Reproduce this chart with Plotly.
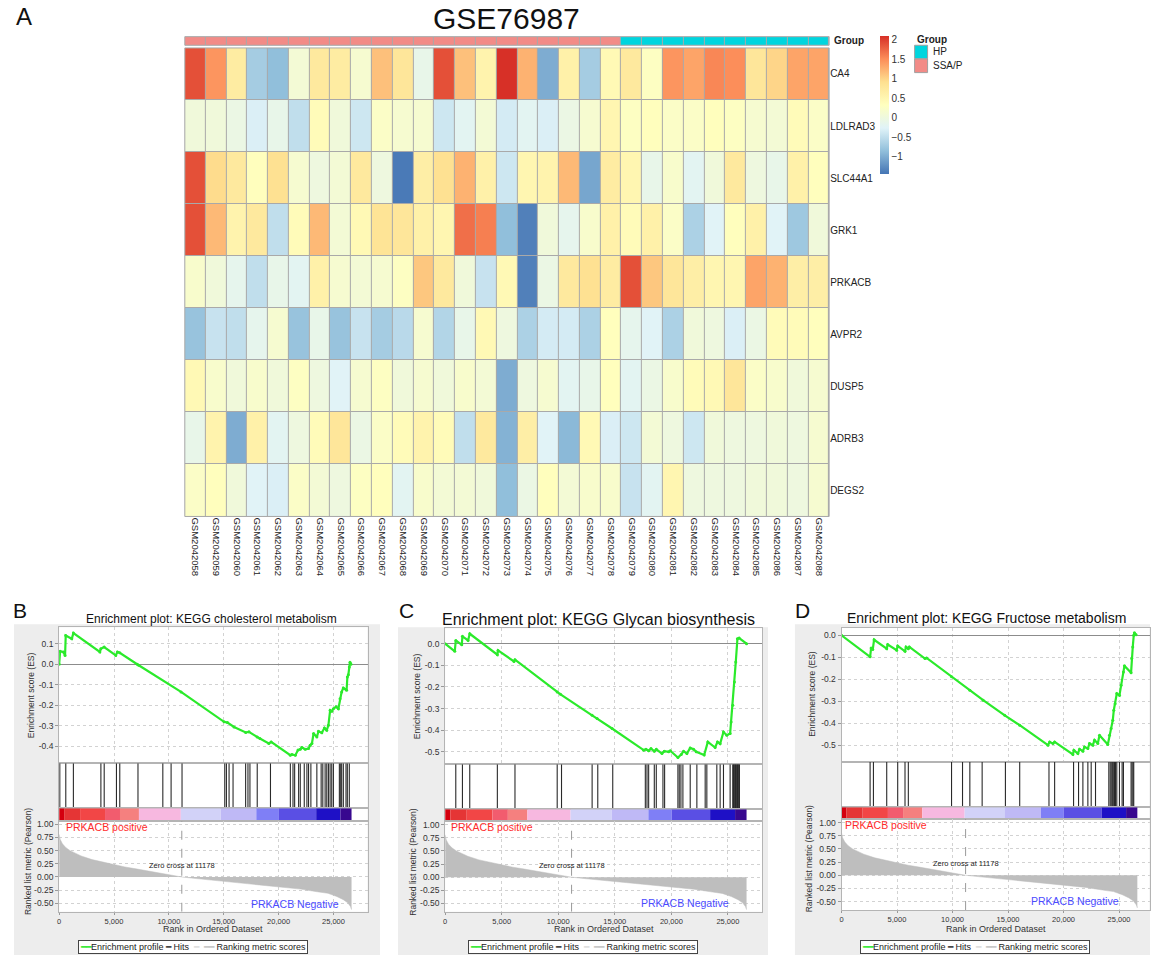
import plotly.graph_objects as go

# ---------------------------------------------------------------- data ----
genes = ["CA4", "LDLRAD3", "SLC44A1", "GRK1", "PRKACB", "AVPR2", "DUSP5", "ADRB3", "DEGS2"]
samples = ["GSM2042058", "GSM2042059", "GSM2042060", "GSM2042061", "GSM2042062", "GSM2042063",
           "GSM2042064", "GSM2042065", "GSM2042066", "GSM2042067", "GSM2042068", "GSM2042069",
           "GSM2042070", "GSM2042071", "GSM2042072", "GSM2042073", "GSM2042074", "GSM2042075",
           "GSM2042076", "GSM2042077", "GSM2042078", "GSM2042079", "GSM2042080", "GSM2042081",
           "GSM2042082", "GSM2042083", "GSM2042084", "GSM2042085", "GSM2042086", "GSM2042087",
           "GSM2042088"]
groups = ["SSA/P", "SSA/P", "SSA/P", "SSA/P", "SSA/P", "SSA/P", "SSA/P", "SSA/P", "SSA/P", "SSA/P",
          "SSA/P", "SSA/P", "SSA/P", "SSA/P", "SSA/P", "SSA/P", "SSA/P", "SSA/P", "SSA/P", "SSA/P",
          "SSA/P", "HP", "HP", "HP", "HP", "HP", "HP", "HP", "HP", "HP", "HP"]

expr_CA4 = [1.9, 1.45, 0.7, -0.7, -0.85, 0.1, 0.75, 0.7, 0.15, 1.15, 0.8, -0.1, 1.9, 1.15, 0.55, 2.1,
            1.25, -1.0, 0.6, -0.7, 0.45, 0.75, 0.3, 1.45, 1.35, 1.55, 1.5, 0.8, 1.0, 1.35, 1.35]
expr_LDLRAD3 = [0.05, 0.05, -0.05, -0.3, -0.1, -0.5, 0.4, 0.05, -0.4, 0.25, 0.15, 0.15, -0.4, -0.2, 0.1,
                -0.35, -0.2, -0.3, -0.05, 0.15, 0.5, 0.3, 0.35, 0.25, 0.25, 0.35, 0.3, 0.15, 0.1, 0.4, 0.25]
expr_SLC44A1 = [1.9, 0.95, 0.75, 0.35, 0.9, 0.15, 0.0, 0.1, 0.75, 0.0, -1.4, 0.65, 0.9, 1.25, 0.6, -0.4,
                0.5, 0.55, 1.2, -1.05, 0.7, 0.5, -0.1, 0.2, -0.2, 0.05, 0.75, 0.0, -0.1, 0.6, 0.35]
expr_GRK1 = [1.9, 1.2, 0.55, 0.75, -0.5, 0.4, 1.2, 0.1, 0.45, 0.85, 0.8, 0.6, 0.5, 1.7, 1.6, -0.85,
             -1.35, 0.05, -0.15, 0.2, 0.6, 0.4, 0.6, 0.25, -0.65, -0.25, 0.35, 0.6, -0.25, -0.75, 0.05]
expr_PRKACB = [0.2, 0.05, -0.15, -0.5, -0.1, -0.2, 0.6, 0.15, 0.1, 0.15, 0.3, 1.1, 0.75, 0.05, -0.45, 0.45,
               -1.35, -0.05, 0.75, 0.9, 0.7, 1.9, 1.1, 0.8, 0.65, 0.5, 0.5, 1.35, 1.25, 0.65, 0.65]
expr_AVPR2 = [-0.8, -0.45, -0.5, -0.15, 0.15, -0.8, -0.1, -0.8, -0.45, -0.7, -0.55, 0.15, -0.6, -0.1, 0.45,
              0.0, -0.65, -0.35, -0.35, -0.65, 0.35, -0.15, -0.25, -0.65, 0.05, 0.0, -0.3, -0.05, 0.4, 0.4, 0.35]
expr_DUSP5 = [0.45, 0.2, 0.05, 0.2, 0.05, 0.3, 0.0, -0.25, 0.15, 0.3, 0.05, 0.15, 0.05, 0.2, 0.1, -1.0,
              0.0, 0.15, -0.2, -0.1, 0.35, -0.2, -0.05, 0.2, 0.4, 0.45, 0.8, 0.25, 0.2, 0.05, 0.15]
expr_ADRB3 = [-0.1, 0.55, -1.0, 0.6, -0.2, 0.0, 0.4, 0.8, -0.05, 0.25, 0.4, 0.55, 0.4, -0.5, 0.75, -0.95,
              0.65, -0.25, -0.9, 0.45, -0.3, -0.4, 0.1, 0.0, -0.4, 0.05, 0.0, 0.0, 0.05, 0.0, 0.15]
expr_DEGS2 = [0.25, 0.35, 0.05, -0.25, -0.3, 0.25, 0.1, 0.0, 0.3, 0.35, -0.2, 0.2, 0.1, 0.1, 0.05, -0.85,
              -0.05, 0.35, 0.1, 0.2, 0.2, -0.45, -0.2, 0.5, 0.0, 0.0, 0.0, 0.05, 0.05, 0.0, 0.15]
heat_min, heat_max = -1.44, 2.1
heat_ticks = [-1, -0.5, 0, 0.5, 1, 1.5, 2]

# GSEA: shared ranked list
metric_rank = [0, 100, 300, 600, 1000, 2000, 3000, 4000, 5000, 6000, 7000, 8000, 9000, 10000, 11178,
               12500, 14000, 16000, 18000, 20000, 22000, 23500, 24500, 25300, 25900, 26300, 26550, 26650]
metric_val = [0.81, 0.71, 0.63, 0.56, 0.5, 0.4, 0.33, 0.28, 0.23, 0.19, 0.155, 0.12, 0.08, 0.04, 0.0,
              -0.03, -0.06, -0.1, -0.14, -0.18, -0.23, -0.28, -0.31, -0.37, -0.43, -0.49, -0.56, -0.62]
zero_cross = 11178
cbar_edges = [0, 455, 1909, 4182, 5545, 7273, 11091, 14727, 17970, 20030, 23427, 25636, 26650]
cbar_colors = ["#D4000E", "#E53535", "#F24646", "#F25C6E", "#F5807F", "#F7B8E0", "#D2D2F8",
               "#BFB9F6", "#7F7FF6", "#5A4FE4", "#1E10C6", "#38088F"]
metric_ticks = [1.0, 0.75, 0.5, 0.25, 0.0, -0.25, -0.5]
metric_ticktext = ["1.00", "0.75", "0.50", "0.25", "0.00", "-0.25", "-0.50"]
rank_ticks = [0, 5000, 10000, 15000, 20000, 25000]

# B: KEGG cholesterol metabolism
es_b_rank = [0, 90, 390, 540, 600, 1150, 1300, 3710, 3800, 4100, 5160, 5310, 5520, 7120, 7250, 11110,
             15030, 15340, 15940, 17000, 17300, 18050, 18300, 19110, 19320, 21070, 21220, 21530, 21770,
             21980, 22130, 22430, 22730, 22880, 23040, 23190, 23490, 23640, 23940, 24180, 24390, 24540,
             24700, 24850, 25000, 25240, 25450, 25600, 25750, 25900, 26200, 26270, 26360, 26450, 26510, 26600]
es_b_val = [0.0, 0.063, 0.06, 0.043, 0.14, 0.124, 0.152, 0.06, 0.076, 0.084, 0.043, 0.06, 0.056, 0.0,
            -0.005, -0.135, -0.281, -0.285, -0.306, -0.333, -0.33, -0.355, -0.363, -0.387, -0.379, -0.444,
            -0.44, -0.444, -0.419, -0.415, -0.406, -0.415, -0.411, -0.395, -0.387, -0.338, -0.355, -0.327,
            -0.335, -0.311, -0.322, -0.298, -0.225, -0.23, -0.217, -0.208, -0.217, -0.168, -0.135, -0.116,
            -0.127, -0.062, -0.051, -0.014, 0.01, 0.0]
hits_b = [60, 604, 1298, 3804, 4106, 5223, 5525, 7185, 9449, 10204, 11200, 15095, 15246, 15488, 15850,
          16997, 17209, 17390, 18054, 19261, 21073, 21314, 21465, 21827, 21978, 22341, 22582, 22733, 22944,
          23488, 23880, 24031, 24242, 24393, 24544, 24695, 24846, 24997, 25541, 25662, 25752, 25903, 26145,
          26266, 26447]
es_ticks_b = [0.1, 0.0, -0.1, -0.2, -0.3, -0.4]
es_ticktext_b = ["0.1", "0.0", "-0.1", "-0.2", "-0.3", "-0.4"]

# C: KEGG Glycan biosynthesis
es_c_rank = [0, 853, 941, 1470, 1529, 2029, 2176, 4616, 4675, 6086, 6174, 9908, 10202, 12995, 13436,
             14759, 17552, 17758, 17993, 18199, 18493, 18669, 19169, 19375, 19757, 19904, 20580, 20874,
             21080, 21374, 21668, 21962, 22197, 22903, 23226, 23873, 24079, 24314, 24608, 24902, 25196,
             25284, 25431, 25578, 25696, 25843, 25990, 26650]
es_c_val = [0.0, -0.035, 0.015, -0.005, 0.034, 0.015, 0.046, -0.051, -0.031, -0.082, -0.074, -0.223,
            -0.234, -0.331, -0.346, -0.392, -0.492, -0.488, -0.495, -0.485, -0.497, -0.488, -0.508, -0.497,
            -0.5, -0.495, -0.526, -0.512, -0.497, -0.508, -0.482, -0.488, -0.5, -0.515, -0.454, -0.48,
            -0.454, -0.462, -0.408, -0.423, -0.415, -0.362, -0.285, -0.177, -0.085, 0.023, 0.026, 0.0]
hits_c = [941, 1529, 2176, 4616, 6174, 9908, 10290, 12995, 13495, 14818, 17699, 17846, 17993, 18493,
          18669, 19257, 19404, 20580, 20698, 20845, 21021, 21668, 22256, 22991, 23138, 24020, 24314, 24608,
          25196, 25431, 25490, 25550, 25610, 25670, 25730, 25790, 25850, 25910, 25970, 26019]
es_ticks_c = [0.0, -0.1, -0.2, -0.3, -0.4, -0.5]
es_ticktext_c = ["0.0", "-0.1", "-0.2", "-0.3", "-0.4", "-0.5"]

# D: KEGG Fructose metabolism
es_d_rank = [0, 2576, 2666, 2816, 2935, 4073, 4163, 4971, 5061, 5720, 5810, 6020, 6110, 7517, 7667, 9913,
             11560, 12758, 14705, 16052, 18598, 18748, 19047, 19197, 20844, 20934, 21293, 21443, 21743,
             21892, 22192, 22342, 22641, 22791, 23091, 23240, 23989, 24139, 24289, 24439, 24529, 24648,
             24798, 25038, 25188, 25397, 25487, 26086, 26146, 26236, 26326, 26386, 26536]
es_d_val = [0.0, -0.098, -0.058, -0.064, -0.02, -0.061, -0.042, -0.068, -0.048, -0.073, -0.053, -0.061,
            -0.053, -0.106, -0.103, -0.189, -0.25, -0.295, -0.364, -0.409, -0.5, -0.485, -0.492, -0.485,
            -0.542, -0.523, -0.538, -0.518, -0.527, -0.508, -0.515, -0.492, -0.5, -0.477, -0.492, -0.455,
            -0.497, -0.455, -0.424, -0.386, -0.341, -0.311, -0.265, -0.273, -0.227, -0.167, -0.139, -0.17,
            -0.106, -0.053, 0.0, 0.012, 0.003]
hits_d = [2576, 2875, 4073, 5062, 5720, 6020, 9913, 10902, 11561, 12669, 14765, 16053, 18689, 19198,
          20905, 21354, 21744, 22193, 22492, 22882, 24080, 24200, 24289, 24379, 24439, 24529, 24589, 24679,
          24799, 25038, 25278, 25398, 26086, 26176, 26266, 26326]
es_ticks_d = [0.0, -0.1, -0.2, -0.3, -0.4, -0.5]
es_ticktext_d = ["0.0", "-0.1", "-0.2", "-0.3", "-0.4", "-0.5"]

# ------------------------------------------------------------- styling ----
W, H = 1151, 955
FONT = "Liberation Sans, Arial, Helvetica, sans-serif"
HP_COL, SSA_COL = "#00D5DE", "#F28B87"
GRID = "#D2D2D2"
BORDER = "#B4B4B4"
GREEN = "#2BEA2B"


def X(p):
    return p / W


def Y(p):
    return 1 - p / H


fig = go.Figure()
lay = {}
shapes = []
ann = []


def text(x, y, s, size, color="#222", xanchor="center", yanchor="middle", angle=0, **kw):
    ann.append(dict(x=X(x), y=Y(y), xref="paper", yref="paper", text=s, showarrow=False,
                    xanchor=xanchor, yanchor=yanchor, textangle=angle,
                    font=dict(size=size, color=color, family=kw.pop("family", FONT)), **kw))


# ------------------------------------------------------------- heatmap ----
expr = [expr_CA4, expr_LDLRAD3, expr_SLC44A1, expr_GRK1, expr_PRKACB, expr_AVPR2, expr_DUSP5,
        expr_ADRB3, expr_DEGS2]
rdylbu = ["#4575B4", "#91BFDB", "#E0F3F8", "#FFFFBF", "#FEE090", "#FC8D59", "#D73027"]
heat_cs = [[i / 6, c] for i, c in enumerate(rdylbu)]

fig.add_trace(go.Heatmap(
    z=expr, x=samples, y=genes, xaxis="x", yaxis="y", colorscale=heat_cs, zmin=heat_min, zmax=heat_max,
    xgap=1, ygap=1, hoverinfo="skip",
    colorbar=dict(thickness=9, thicknessmode="pixels", len=138.3, lenmode="pixels",
                  x=X(880.7), xanchor="left", y=Y(35), yanchor="top", xpad=0, ypad=0,
                  outlinewidth=0, tickvals=heat_ticks, ticks="",
                  tickfont=dict(size=10, color="#333", family=FONT))))

group_code = [1 if g == "SSA/P" else 0 for g in groups]
fig.add_trace(go.Heatmap(
    z=[group_code], x=samples, y=["Group"], xaxis="x2", yaxis="y2",
    colorscale=[[0, HP_COL], [0.5, HP_COL], [0.5, SSA_COL], [1, SSA_COL]], zmin=0, zmax=1,
    showscale=False, xgap=1, hoverinfo="skip"))

hx = [X(183.3), X(829.3)]
lay["xaxis"] = dict(domain=hx, anchor="y", tickangle=90, ticks="", showgrid=False, zeroline=False,
                    showline=False, tickfont=dict(size=9.5, color="#222"))
lay["yaxis"] = dict(domain=[Y(516), Y(47)], anchor="x", autorange="reversed", side="right", ticks="",
                    showgrid=False, zeroline=False, tickfont=dict(size=10, color="#222"))
lay["xaxis2"] = dict(domain=hx, anchor="y2", showticklabels=False, ticks="", showgrid=False, zeroline=False)
lay["yaxis2"] = dict(domain=[Y(44.3), Y(35.7)], anchor="x2", showticklabels=False, ticks="",
                     showgrid=False, zeroline=False)

for xr, yr in (("x domain", "y domain"), ("x2 domain", "y2 domain")):
    shapes.append(dict(type="rect", xref=xr, yref=yr, x0=0, x1=1, y0=0, y1=1,
                       fillcolor="#A9A9A9", line=dict(width=0), layer="below"))
    shapes.append(dict(type="rect", xref=xr, yref=yr, x0=0, x1=1, y0=0, y1=1,
                       fillcolor="rgba(0,0,0,0)", line=dict(width=1, color="#A9A9A9"), layer="above"))

text(506, 18, "GSE76987", 30, "#111")
text(12, 16, "A", 24, "#111", xanchor="left")
text(832, 40, "<b>Group</b>", 10, "#222", xanchor="left")
# group legend
text(915, 39, "<b>Group</b>", 10, "#222", xanchor="left")
for (y0, y1, col, lab) in ((44.3, 57.7, HP_COL, "HP"), (58.0, 71.7, SSA_COL, "SSA/P")):
    shapes.append(dict(type="rect", xref="paper", yref="paper", x0=X(915), x1=X(928), y0=Y(y1), y1=Y(y0),
                       fillcolor=col, line=dict(width=1, color="#A0A0A0")))
    text(931, (y0 + y1) / 2, lab, 10, "#222", xanchor="left")

# ---------------------------------------------------------------- GSEA ----
panels = [
    dict(letter="B", letter_xy=(18, 610), title="Enrichment plot: KEGG cholesterol metabolism", tsize=12,
         title_xy=(210, 619), bg=(12, 379, 624), x0=57.3, x1=366.5, R=28109,
         es=(627, 763), hits=(763, 808), cb=(808, 820.5), met=(820.5, 911.7), es_range=[-0.483, 0.18],
         es_title_x=29, met_title_x=26, es_title_y=695, met_title_y=861,
         pos_xy=(62.5, 826.7), neg_xy=(340, 904.3), rank_y=929, legend=(65, 318, 946.7),
         data=(es_b_rank, es_b_val, hits_b, es_ticks_b, es_ticktext_b)),
    dict(letter="C", letter_xy=(406, 610), title="Enrichment plot: KEGG Glycan biosynthesis", tsize=16,
         title_xy=(598, 619), bg=(397, 768, 627), x0=444.3, x1=762, R=28016,
         es=(628, 764), hits=(764, 809), cb=(809, 821), met=(821, 911.7), es_range=[-0.557, 0.071],
         es_title_x=416, met_title_x=411.7, es_title_y=696, met_title_y=862,
         pos_xy=(447.7, 826.7), neg_xy=(731, 903.3), rank_y=929, legend=(452.7, 712.3, 946.7),
         data=(es_c_rank, es_c_val, hits_c, es_ticks_c, es_ticktext_c)),
    dict(letter="D", letter_xy=(803, 610), title="Enrichment plot: KEGG Fructose metabolism", tsize=14,
         title_xy=(987, 618), bg=(795, 1151, 624), x0=841.7, x1=1150.5, R=27745,
         es=(627.3, 761.7), hits=(761.7, 807), cb=(807, 818.7), met=(818.7, 910), es_range=[-0.576, 0.035],
         es_title_x=812.7, met_title_x=809.3, es_title_y=694, met_title_y=859,
         pos_xy=(843, 825), neg_xy=(1122, 900.7), rank_y=928.5, legend=(849.3, 1102.3, 946.7),
         data=(es_d_rank, es_d_val, hits_d, es_ticks_d, es_ticktext_d)),
]

cb_mid = [(a + b) / 2 for a, b in zip(cbar_edges[:-1], cbar_edges[1:])]
cb_w = [b - a for a, b in zip(cbar_edges[:-1], cbar_edges[1:])]
hidden = dict(showticklabels=False, ticks="", showgrid=False, zeroline=False,
              showline=True, mirror=True, linecolor=BORDER, linewidth=1)
tickfont = dict(size=8.5, color="#333", family=FONT)

for i, p in enumerate(panels):
    es_rank, es_val, hits, es_ticks, es_ticktext = p["data"]
    n_es, n_hit, n_cb, n_met = 3 + 4 * i, 4 + 4 * i, 5 + 4 * i, 6 + 4 * i
    xdom = [X(p["x0"]), X(p["x1"])]
    xr = [0, p["R"]]

    # gray panel background
    bx0, bx1, by0 = p["bg"]
    shapes.append(dict(type="rect", xref="paper", yref="paper", x0=X(bx0), x1=X(bx1), y0=0, y1=Y(by0),
                       fillcolor="#EDEDED", line=dict(width=0), layer="below"))

    # ES subplot
    lay[f"xaxis{n_es}"] = dict(domain=xdom, range=xr, anchor=f"y{n_es}", showticklabels=False, ticks="",
                               tick0=0, dtick=5000, showgrid=True, gridcolor=GRID, griddash="dot",
                               zeroline=False, showline=True, mirror=True, linecolor=BORDER)
    lay[f"yaxis{n_es}"] = dict(domain=[Y(p["es"][1]), Y(p["es"][0])], range=p["es_range"], anchor=f"x{n_es}",
                               tickvals=es_ticks, ticktext=es_ticktext, ticks="outside", ticklen=3,
                               tickcolor="#999", tickfont=tickfont, showgrid=True, gridcolor=GRID,
                               griddash="dot", zeroline=True, zerolinecolor="#8C8C8C", zerolinewidth=1,
                               showline=True, mirror=True, linecolor=BORDER)
    fig.add_trace(go.Scatter(x=es_rank, y=es_val, mode="lines+markers", xaxis=f"x{n_es}", yaxis=f"y{n_es}",
                             line=dict(color=GREEN, width=2.2), marker=dict(size=3, color=GREEN),
                             hoverinfo="skip", showlegend=False))

    # hits
    hx_, hy_ = [], []
    for h in hits:
        hx_ += [h, h, None]
        hy_ += [0, 1, None]
    lay[f"xaxis{n_hit}"] = dict(domain=xdom, range=xr, anchor=f"y{n_hit}", **hidden)
    lay[f"yaxis{n_hit}"] = dict(domain=[Y(p["hits"][1]), Y(p["hits"][0])], range=[0, 1],
                                anchor=f"x{n_hit}", **hidden)
    fig.add_trace(go.Scatter(x=hx_, y=hy_, mode="lines", xaxis=f"x{n_hit}", yaxis=f"y{n_hit}",
                             line=dict(color="#2A2A2A", width=1.1), hoverinfo="skip", showlegend=False))

    # color bar of ranked list
    lay[f"xaxis{n_cb}"] = dict(domain=xdom, range=xr, anchor=f"y{n_cb}", **hidden)
    lay[f"yaxis{n_cb}"] = dict(domain=[Y(p["cb"][1]), Y(p["cb"][0])], range=[0, 1], anchor=f"x{n_cb}", **hidden)
    fig.add_trace(go.Bar(x=cb_mid, y=[1] * len(cb_mid), width=cb_w, base=0, xaxis=f"x{n_cb}",
                         yaxis=f"y{n_cb}", marker=dict(color=cbar_colors, line=dict(width=0)),
                         hoverinfo="skip", showlegend=False))

    # ranked list metric
    lay[f"xaxis{n_met}"] = dict(domain=xdom, range=xr, anchor=f"y{n_met}", tickvals=rank_ticks,
                                tickformat=",d", ticks="outside", ticklen=2, tickcolor="#999",
                                tickfont=dict(size=7.5, color="#333", family=FONT), showgrid=True,
                                gridcolor=GRID, griddash="dot", zeroline=False, showline=True, mirror=True,
                                linecolor=BORDER)
    lay[f"yaxis{n_met}"] = dict(domain=[Y(p["met"][1]), Y(p["met"][0])], range=[-0.66, 1.07],
                                anchor=f"x{n_met}", tickvals=metric_ticks, ticktext=metric_ticktext,
                                ticks="outside", ticklen=3, tickcolor="#999", tickfont=tickfont,
                                showgrid=True, gridcolor=GRID, griddash="dot", zeroline=False,
                                showline=True, mirror=True, linecolor=BORDER)
    fig.add_trace(go.Scatter(x=metric_rank, y=metric_val, mode="lines", fill="tozeroy",
                             fillcolor="#BEBEBE", line=dict(color="#BEBEBE", width=0.5),
                             xaxis=f"x{n_met}", yaxis=f"y{n_met}", hoverinfo="skip", showlegend=False))
    fig.add_trace(go.Scatter(x=[zero_cross, zero_cross], y=[-0.66, 1.07], mode="lines",
                             line=dict(color="#9A9A9A", width=1, dash="dash"),
                             xaxis=f"x{n_met}", yaxis=f"y{n_met}", hoverinfo="skip", showlegend=False))
    ann.append(dict(x=zero_cross, y=0.215, xref=f"x{n_met}", yref=f"y{n_met}",
                    text=f"Zero cross at {zero_cross}", showarrow=False, xanchor="center",
                    yanchor="middle", font=dict(size=7.5, color="#222", family=FONT)))

    # white backgrounds of the subplots
    for n in (n_es, n_hit, n_cb, n_met):
        shapes.append(dict(type="rect", xref=f"x{n} domain", yref=f"y{n} domain", x0=0, x1=1, y0=0, y1=1,
                           fillcolor="white", line=dict(width=0), layer="below"))

    # texts
    text(p["letter_xy"][0], p["letter_xy"][1], p["letter"], 21, "#111")
    text(p["title_xy"][0], p["title_xy"][1], p["title"], p["tsize"], "#111")
    text(p["es_title_x"], p["es_title_y"], "Enrichment score (ES)", 8.5, "#333", angle=-90)
    text(p["met_title_x"], p["met_title_y"], "Ranked list metric (Pearson)", 8.5, "#333", angle=-90)
    text((p["x0"] + p["x1"]) / 2, p["rank_y"], "Rank in Ordered Dataset", 9, "#333")
    text(p["pos_xy"][0], p["pos_xy"][1], "PRKACB positive", 10.5, "#FF2B2B", xanchor="left")
    text(p["neg_xy"][0], p["neg_xy"][1], "PRKACB Negative", 10.5, "#4B4BFF", xanchor="right")
    lx0, lx1, ly = p["legend"]
    legend_html = ("<span style='color:%s'>━━</span>Enrichment profile\u00a0"
                   "<span style='color:#333333'>━</span>\u00a0Hits\u00a0\u00a0"
                   "<span style='color:#DDDDDD'>━</span>\u00a0\u00a0"
                   "<span style='color:#C4C4C4'>━━</span>\u00a0Ranking metric scores") % GREEN
    text((lx0 + lx1) / 2, ly, legend_html, 9, "#222", bgcolor="white", bordercolor="#444",
         borderwidth=1, borderpad=1)

fig.update_layout(width=W, height=H, margin=dict(l=0, r=0, t=0, b=0), paper_bgcolor="white",
                  plot_bgcolor="white", showlegend=False, barmode="overlay",
                  font=dict(family=FONT, color="#222"), shapes=shapes, annotations=ann, **lay)
fig.write_html("out.html", config={"displayModeBar": False},
               post_script="document.body.style.margin='0px';document.body.style.overflow='hidden';")
